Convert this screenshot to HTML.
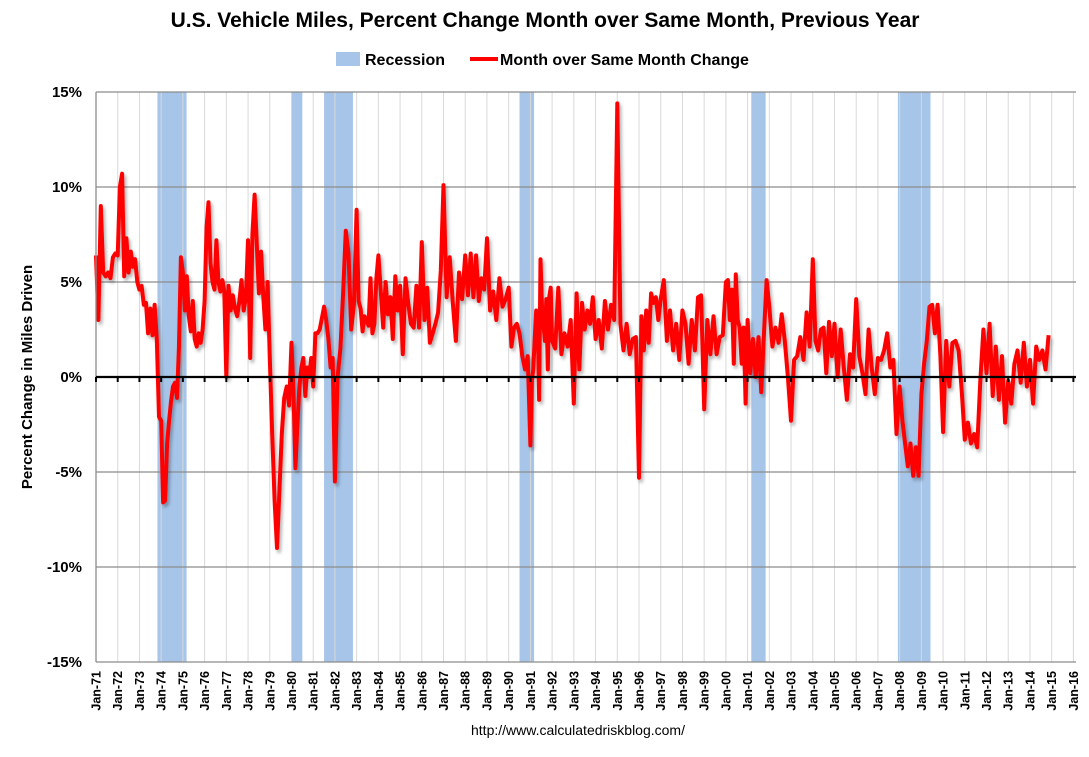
<!DOCTYPE html>
<html><head><meta charset="utf-8">
<style>
body{margin:0;background:#fff;width:1089px;height:752px;overflow:hidden;font-family:"Liberation Sans",Arial,sans-serif}
svg text{font-family:"Liberation Sans",Arial,sans-serif}
</style></head>
<body>
<svg id="chart" width="1089" height="752" xmlns="http://www.w3.org/2000/svg">
<defs><filter id="sh" x="-5%" y="-5%" width="110%" height="110%"><feDropShadow dx="2" dy="3" stdDeviation="1.5" flood-color="#000" flood-opacity="0.3"/></filter></defs>
<text x="545" y="27" text-anchor="middle" font-size="21" font-weight="bold" fill="#000">U.S. Vehicle Miles,  Percent Change Month over Same Month, Previous Year</text>
<g>
<rect x="336" y="52" width="24" height="14" fill="#a6c5e9"/>
<text x="365" y="65" font-size="16" font-weight="bold">Recession</text>
<line x1="470" y1="59" x2="498" y2="59" stroke="#f00" stroke-width="4"/>
<text x="500" y="65" font-size="16" font-weight="bold">Month over Same Month Change</text>
</g>
<text transform="translate(32,377) rotate(-90)" text-anchor="middle" font-size="15" font-weight="bold">Percent Change in Miles Driven</text>
<g id="recs"></g><g id="grid"></g><g id="series"></g><g id="axes"></g>
<text x="578" y="735" text-anchor="middle" font-size="14" fill="#000">http://www.calculatedriskblog.com/</text>
</svg>
<script>
const years=[1971,1972,1973,1974,1975,1976,1977,1978,1979,1980,1981,1982,1983,1984,1985,1986,1987,1988,1989,1990,1991,1992,1993,1994,1995,1996,1997,1998,1999,2000,2001,2002,2003,2004,2005,2006,2007,2008,2009,2010,2011,2012,2013,2014];
const yearValues=[
[6.4,3.0,9.0,5.5,5.3,5.5,5.2,6.3,6.5],
[6.4,10.0,10.7,5.3,7.3,5.5,6.6,5.8,6.2,5.0],
[4.6,4.8,3.8,3.9,2.3,3.6,2.2,3.8,2.0,-2.1],
[-2.3,-6.6,-6.5,-3.5,-2.3,-1.3,-0.5,-0.3,-1.1,1.5,6.3],
[5.5,3.5,5.3,3.2,2.4,4.0,2.0,1.6,2.3,1.8,2.5],
[4.0,7.9,9.2,6.0,5.0,4.6,7.2,5.0,4.5,5.1,4.5],
[0.0,4.8,3.5,4.3,3.6,3.2,4.0,5.1,3.5,4.2],
[7.2,1.0,7.5,9.6,7.1,4.4,6.6,4.3,2.5,5.0],
[1.0,-3.0,-6.5,-9.0,-6.0,-3.0,-1.1,-0.5,-1.5],
[1.8,-0.8,-4.8,-2.5,-0.5,0.5,1.0,-1.0,0.5,0.0,1.0],
[-0.5,2.3,2.3,2.5,3.1,3.7,3.0,2.0,0.5,1.0],
[-5.5,0.0,1.5,4.4,7.7,6.5,2.5,3.8],
[8.8,4.0,3.6,2.4,3.2,3.0,2.7,5.2,2.3,2.8,5.2],
[6.4,4.5,2.6,5.0,3.3,4.2,2.0,5.3,3.5],
[4.8,1.2,5.2,3.9,2.8,2.6,4.8,2.6],
[7.1,3.0,4.7,1.8,2.3,2.8,3.4,5.6],
[10.1,4.2,6.3,3.9,1.9,5.5,4.1],
[6.4,4.3,6.5,4.2,6.4,4.0,5.2,4.6],
[7.3,3.5,4.5,3.0,5.2,3.7,4.1],
[4.7,1.6,2.6,2.8,2.3,1.1,0.4,1.1],
[-3.6,-0.2,0.4,2.0,3.5,3.2,-1.2,6.2,3.7,2.8,1.9,4.1,0.4,4.2,4.7],
[1.9,1.5,4.7,1.2,2.3,1.6,3.0],
[-1.4,4.4,0.4,3.9,2.5,3.5,2.8,4.2],
[2.0,3.0,1.5,4.0,2.5,3.8,3.0],
[14.4,2.8,1.4,2.8,1.2,2.0,2.1],
[-5.3,3.2,1.4,3.5,1.8,4.4,3.9,4.2,3.0],
[4.1,5.1,1.9,3.5,1.4,2.8,0.9],
[3.5,2.8,0.7,3.0,1.4,4.2,4.3],
[-1.7,3.0,1.2,3.2,1.2,2.1,2.2],
[5.0,5.1,3.0,4.6,0.7,5.4,3.0,2.6,0.7,2.6,-1.4],
[3.0,0.2,2.0,0.0,2.1,-0.8,2.2,5.1],
[3.7,1.6,2.6,1.8,3.3,1.9,0.0],
[-2.3,0.9,1.1,2.1,0.9,3.4,1.6],
[6.2,1.9,1.4,2.5,2.6,0.2,2.9,1.1],
[2.8,0.0,2.5,0.5,-1.2,1.2,0.5],
[4.1,1.1,0.2,-0.9,2.5,0.5,-0.9],
[1.0,0.9,1.4,2.3,0.5,0.9,-3.0],
[-0.5,-2.3,-3.5,-4.7,-3.5,-5.2,-3.7,-5.2],
[-0.9,0.7,1.9,3.7,3.8,2.3,3.8,1.1],
[-2.9,1.9,-0.5,1.8,1.9,1.4,-0.7],
[-3.3,-2.4,-3.5,-3.0,-3.7,-0.2,2.5],
[0.2,2.8,-1.0,1.6,-1.2,1.1,-2.4],
[-0.2,-1.4,0.7,1.4,-0.3,1.8,-0.5],
[0.9,-1.4,1.6,0.9,1.4,0.4,2.2]
];
const recStart=[1973.83,1980.0,1981.5,1990.5,2001.17,2007.92];
const recEnd=[1975.17,1980.5,1982.83,1991.17,2001.83,2009.42];
const yTicks=[15,10,5,0,-5,-10,-15];
const xYears=[];for(let y=1971;y<=2016;y++)xYears.push(y);

const NS="http://www.w3.org/2000/svg";
const X0=96,PPY=21.72,RIGHT=1076,TOP=92,BOT=662;
const xs=t=>X0+(t-1971)*PPY;
const ys=v=>377-v*19;
function mk(tag,attrs,parent){const e=document.createElementNS(NS,tag);for(const k in attrs)e.setAttribute(k,attrs[k]);parent.appendChild(e);return e;}

const recs=document.getElementById('recs');
recStart.forEach((s,i)=>{
  const r=mk('rect',{x:xs(s),y:TOP,width:xs(recEnd[i])-xs(s),height:BOT-TOP,fill:'#a6c5e9'},recs);
  
  
});
const grid=document.getElementById('grid');
xYears.forEach(y=>{
  if(y===1971)return;
  const l=mk('line',{x1:xs(y),x2:xs(y),y1:TOP,y2:BOT,stroke:'#d9d9d9','stroke-width':1},grid);
  
  
});
yTicks.forEach(v=>{
  if(v===0)return;
  const l=mk('line',{x1:X0,x2:RIGHT,y1:ys(v),y2:ys(v),stroke:'#8c8c8c','stroke-width':1.3},grid);
  
  
});
const axes=document.getElementById('axes');
const la=mk('line',{x1:X0,x2:X0,y1:TOP,y2:BOT,stroke:'#8c8c8c','stroke-width':1.3},axes);


yTicks.forEach(v=>{
  const t=mk('text',{x:82,y:ys(v)+5,'text-anchor':'end','font-size':15,'font-weight':'bold'},axes);
  t.textContent=v+'%';
  
  
});
xYears.forEach(y=>{
  const t=mk('text',{transform:`translate(${xs(y)+4.5},${671}) rotate(-90)`,'text-anchor':'end','font-size':12.5,'font-weight':'bold'},axes);
  t.textContent='Jan-'+String(y%100).padStart(2,'0');
  
  
});
let pts=[];
years.forEach((y,i)=>{const arr=yearValues[i];arr.forEach((v,j)=>pts.push([xs(y+j/arr.length),ys(v)]));});
const sg=document.getElementById('series');
const path=mk('polyline',{points:pts.map(p=>p[0].toFixed(1)+','+p[1].toFixed(1)).join(' '),fill:'none',stroke:'#ff0000','stroke-width':4,'stroke-linejoin':'round',filter:'url(#sh)'},sg);


const z=mk('line',{x1:X0,x2:RIGHT,y1:ys(0),y2:ys(0),stroke:'#000','stroke-width':2.2},axes);


xYears.forEach(y=>{
  const t=mk('line',{x1:xs(y),x2:xs(y),y1:ys(0),y2:ys(0)+5,stroke:'#000','stroke-width':2},axes);
  
  
});
</script>
</body></html>
